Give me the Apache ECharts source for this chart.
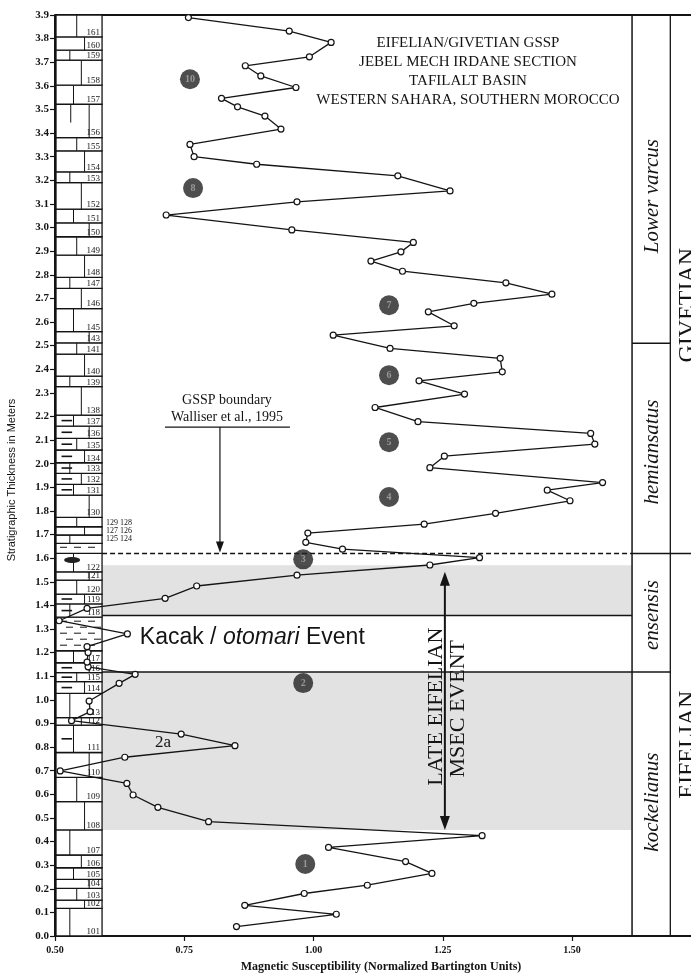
<!DOCTYPE html>
<html><head><meta charset="utf-8">
<script src="https://cdn.jsdelivr.net/npm/echarts@6.0.0/dist/echarts.min.js"></script>
<style>html,body{margin:0;padding:0;background:#fff}#c{width:691px;height:974px}</style>
</head><body><div id="c"></div>
<script>
// ---------- DATA ----------
const depthM = [0.040,0.092,0.130,0.180,0.215,0.265,0.315,0.375,0.425,0.484,0.545,0.597,0.646,0.699,0.757,0.806,0.855,0.912,0.950,0.995,1.070,1.108,1.140,1.160,1.200,1.225,1.279,1.335,1.387,1.430,1.482,1.528,1.571,1.602,1.638,1.667,1.706,1.744,1.790,1.843,1.888,1.920,1.983,2.032,2.083,2.128,2.178,2.238,2.295,2.351,2.389,2.446,2.488,2.544,2.584,2.643,2.679,2.718,2.766,2.815,2.858,2.897,2.937,2.990,3.053,3.109,3.155,3.219,3.268,3.300,3.352,3.417,3.472,3.511,3.547,3.593,3.642,3.685,3.723,3.784,3.832,3.889];
const susceptibility = [0.851,1.044,0.867,0.982,1.104,1.229,1.178,1.029,1.326,0.797,0.699,0.651,0.639,0.510,0.635,0.848,0.744,0.532,0.568,0.566,0.624,0.655,0.564,0.562,0.564,0.562,0.640,0.508,0.562,0.713,0.774,0.968,1.225,1.321,1.056,0.985,0.989,1.214,1.352,1.496,1.452,1.559,1.225,1.253,1.544,1.536,1.202,1.119,1.292,1.204,1.365,1.361,1.148,1.038,1.272,1.222,1.310,1.461,1.372,1.172,1.111,1.169,1.193,0.958,0.715,0.968,1.264,1.163,0.890,0.769,0.761,0.937,0.906,0.853,0.822,0.966,0.898,0.868,0.992,1.034,0.953,0.758];
const xTickValues = [0.50,0.75,1.00,1.25,1.50];

const cycleLabels = ['1','2','3','4','5','6','7','8','10'];
const cycleX = [0.984,0.980,0.980,1.146,1.146,1.146,1.146,0.767,0.761];
const cycleY = [0.305,1.071,1.595,1.859,2.091,2.375,2.671,3.167,3.628];

const bedBase  = [0.000,0.117,0.152,0.202,0.240,0.289,0.343,0.449,0.569,0.672,0.777,0.893,0.925,1.027,1.077,1.115,1.157,1.208,1.350,1.406,1.448,1.507,1.542,1.620,1.663,1.698,1.733,1.773,1.867,1.912,1.959,2.004,2.058,2.107,2.159,2.206,2.326,2.371,2.464,2.512,2.559,2.657,2.742,2.789,2.883,2.961,3.020,3.078,3.190,3.236,3.325,3.381,3.522,3.603,3.709,3.751,3.807];
const bedTop   = [0.117,0.152,0.202,0.240,0.289,0.343,0.449,0.569,0.672,0.777,0.893,0.925,1.027,1.077,1.115,1.157,1.208,1.350,1.406,1.448,1.507,1.542,1.620,1.663,1.698,1.733,1.773,1.867,1.912,1.959,2.004,2.058,2.107,2.159,2.206,2.326,2.371,2.464,2.512,2.559,2.657,2.742,2.789,2.883,2.961,3.020,3.078,3.190,3.236,3.325,3.381,3.522,3.603,3.709,3.751,3.807,3.900];
const bedLabels = ['101','102','103','104','105','106','107','108','109','110','111','112','113','114','115','116','117','','118','119','120','121','122','','','','','130','131','132','133','134','135','136','137','138','139','140','141','143','145','146','147','148','149','150','151','152','153','154','155','156','157','158','159','160','161'];
const bedType = ['L','L','L','L','L','L','L','L','L','L','M','L','L','M','M','M','L','S','M','M','L','L','N','S','L','L','L','L','M','M','M','M','M','M','M','L','L','L','L','L','L','L','L','L','L','L','L','L','L','L','L','L','L','L','L','L','L'];
const thinBedLabels = ['125 124','127 126','129 128'];
const thinBedDepth = [1.663,1.698,1.733];

const zoneNames = ['kockelianus','ensensis','hemiansatus','Lower varcus'];
const zoneBase = [0.000,1.118,1.620,2.510];
const zoneTop  = [1.118,1.620,2.510,3.900];
const stageNames = ['EIFELIAN','GIVETIAN'];
const stageBase = [0.000,1.620];
const stageTop  = [1.620,3.900];
const msecBandBase = [0.449,1.357];
const msecBandTop  = [1.118,1.570];
const kacakBase = 1.118, kacakTop = 1.357;
const gsspDepth = 1.620;

const titleLines = ['EIFELIAN/GIVETIAN GSSP','JEBEL MECH IRDANE SECTION','TAFILALT BASIN','WESTERN SAHARA, SOUTHERN MOROCCO'];

// ---------- LAYOUT ----------
const X_MIN = 0.5, X_MAX = 1.730, Y_MAX = 3.9;
const COL_RIGHT = 0.591, PLOT_RIGHT = 1.616, STAGE_LEFT = 1.690;
const zoneLabelDepth = [0.567,1.359,2.049,3.133];
const stageLabelDepth = [0.81,2.671];
const SERIF = '"Liberation Serif","Times New Roman",serif';
const SANS = '"Liberation Sans",Arial,sans-serif';
const INK = '#141414';

const chart = echarts.init(document.getElementById('c'), null, {renderer:'canvas'});

function seg(api, x1, y1, x2, y2, style){
  const a = api.coord([x1,y1]), b = api.coord([x2,y2]);
  return {type:'line', shape:{x1:a[0],y1:a[1],x2:b[0],y2:b[1]}, style:Object.assign({stroke:INK,lineWidth:1.4},style||{})};
}
function vtext(p, text, font, rot){
  return {type:'text', x:p[0], y:p[1], rotation:rot===undefined?Math.PI/2:rot,
    style:{text:text, font:font, fill:INK, align:'center', verticalAlign:'middle'}};
}

function shadeItem(params, api){
  const els = [];
  for (let i=0;i<msecBandBase.length;i++){
    const a = api.coord([COL_RIGHT, msecBandTop[i]]), b = api.coord([PLOT_RIGHT, msecBandBase[i]]);
    els.push({type:'rect', shape:{x:a[0],y:a[1],width:b[0]-a[0],height:b[1]-a[1]}, style:{fill:'#e2e2e2'}});
  }
  return {type:'group', children:els};
}

function frameItem(params, api){
  const els = [];
  els.push(seg(api, COL_RIGHT, kacakTop, PLOT_RIGHT, kacakTop, {lineWidth:1.6}));
  els.push(seg(api, COL_RIGHT, kacakBase, STAGE_LEFT, kacakBase, {lineWidth:1.6}));
  els.push(seg(api, COL_RIGHT, gsspDepth, PLOT_RIGHT, gsspDepth, {lineWidth:1.5, lineDash:[5,3]}));
  els.push(seg(api, PLOT_RIGHT, gsspDepth, X_MAX, gsspDepth, {lineWidth:1.5}));
  els.push(seg(api, PLOT_RIGHT, 0, PLOT_RIGHT, Y_MAX, {lineWidth:1.5}));
  els.push(seg(api, STAGE_LEFT, 0, STAGE_LEFT, Y_MAX, {lineWidth:1.3}));
  for (let i=1;i<zoneBase.length;i++){
    if (Math.abs(zoneBase[i]-gsspDepth)<1e-6 || Math.abs(zoneBase[i]-kacakBase)<1e-6) continue;
    els.push(seg(api, PLOT_RIGHT, zoneBase[i], STAGE_LEFT, zoneBase[i], {lineWidth:1.3}));
  }
  els.push(seg(api, X_MIN, Y_MAX, X_MAX, Y_MAX, {lineWidth:2}));
  for (let i=0;i<zoneNames.length;i++){
    const p = api.coord([(PLOT_RIGHT+STAGE_LEFT)/2, zoneLabelDepth[i]]);
    els.push(vtext([p[0]+1,p[1]], zoneNames[i], 'italic 21px '+SERIF));
  }
  for (let i=0;i<stageNames.length;i++){
    const p = api.coord([STAGE_LEFT, stageLabelDepth[i]]);
    els.push(vtext([p[0]+17,p[1]], stageNames[i], '24px '+SERIF));
  }
  const kp = api.coord([0.664, (kacakBase+kacakTop)/2]);
  els.push({type:'text', x:kp[0], y:kp[1]-6, style:{text:'{a|Kacak / }{b|otomari}{a| Event}', align:'left', verticalAlign:'middle',
     rich:{a:{font:'23px '+SANS, fill:INK}, b:{font:'italic 23px '+SANS, fill:INK}}}});
  const p2a = api.coord([0.709, 0.821]);
  els.push({type:'text', x:p2a[0], y:p2a[1], style:{text:'2a', font:'17px '+SERIF, fill:INK, align:'center', verticalAlign:'middle'}});
  const gx = 0.819;
  const gTop = api.coord([gx, 2.155]);
  els.push({type:'text', x:gTop[0]+7, y:gTop[1]-27, style:{text:'GSSP boundary', font:'14px '+SERIF, fill:INK, align:'center', verticalAlign:'middle'}});
  els.push({type:'text', x:gTop[0]+7, y:gTop[1]-10, style:{text:'Walliser et al., 1995', font:'14px '+SERIF, fill:INK, align:'center', verticalAlign:'middle'}});
  els.push({type:'line', shape:{x1:gTop[0]-55,y1:gTop[1],x2:gTop[0]+70,y2:gTop[1]}, style:{stroke:INK,lineWidth:1.3}});
  const gBot = api.coord([gx, gsspDepth]);
  els.push({type:'line', shape:{x1:gTop[0],y1:gTop[1],x2:gBot[0],y2:gBot[1]-8}, style:{stroke:INK,lineWidth:1.2}});
  els.push({type:'polygon', shape:{points:[[gBot[0],gBot[1]-1],[gBot[0]-4,gBot[1]-12],[gBot[0]+4,gBot[1]-12]]}, style:{fill:INK}});
  const mx = 1.254;
  const mT = api.coord([mx, 1.542]), mB = api.coord([mx, 0.449]);
  els.push({type:'line', shape:{x1:mT[0],y1:mT[1]+8,x2:mB[0],y2:mB[1]-8}, style:{stroke:INK,lineWidth:2}});
  els.push({type:'polygon', shape:{points:[[mT[0],mT[1]],[mT[0]-5,mT[1]+14],[mT[0]+5,mT[1]+14]]}, style:{fill:INK}});
  els.push({type:'polygon', shape:{points:[[mB[0],mB[1]],[mB[0]-5,mB[1]-14],[mB[0]+5,mB[1]-14]]}, style:{fill:INK}});
  const mc = api.coord([mx, 0.975]);
  els.push(vtext([mc[0]-9, mc[1]+1], 'LATE EIFELIAN', '22px '+SERIF));
  els.push(vtext([mc[0]+13, mc[1]+3], 'MSEC EVENT', '22px '+SERIF));
  return {type:'group', children:els};
}

const jointFrac = [0.3,0.62,0.45,0.72,0.38,0.55];
function bedItem(params, api){
  const i = params.dataIndex;
  const b = api.value(0), t = api.value(1);
  const tl = api.coord([X_MIN, t]), br = api.coord([COL_RIGHT, b]);
  const x0 = tl[0]+1, y0 = tl[1], x1 = br[0], y1 = br[1], w = x1-x0, h = y1-y0;
  const els = [];
  els.push({type:'rect', shape:{x:x0,y:y0,width:w,height:h}, style:{fill:'#fff', stroke:INK, lineWidth:1.3}});
  const ty = bedType[i];
  const jf = jointFrac[i % jointFrac.length];
  if (ty === 'L' || ty === 'M' || ty === 'N'){
    els.push({type:'line', shape:{x1:x0+w*jf,y1:y0,x2:x0+w*jf,y2:y1}, style:{stroke:INK,lineWidth:1}});
    if (h > 30){
      const jf2 = jf < 0.5 ? jf+0.3 : jf-0.4;
      els.push({type:'line', shape:{x1:x0+w*jf2,y1:y0,x2:x0+w*jf2,y2:y0+h*0.55}, style:{stroke:INK,lineWidth:1}});
    }
  }
  if (ty === 'M'){
    const ym = y0 + h*0.5;
    els.push({type:'line', shape:{x1:x0+w*0.12,y1:ym,x2:x0+w*0.35,y2:ym}, style:{stroke:INK,lineWidth:1.6}});
  }
  if (ty === 'N'){
    const ym = y0 + h*0.35;
    els.push({type:'ellipse', shape:{cx:x0+w*0.35, cy:ym, rx:8, ry:3}, style:{fill:'#222'}});
  }
  if (ty === 'S'){
    for (let yy = y0+4; yy < y1-2; yy += 6){
      const off = (Math.round((yy-y0)/6) % 2) ? 4 : 10;
      for (let xx = x0+off; xx < x1-6; xx += 14){
        els.push({type:'line', shape:{x1:xx,y1:yy,x2:xx+7,y2:yy}, style:{stroke:INK,lineWidth:1}});
      }
    }
  }
  if (bedLabels[i]){
    els.push({type:'text', x:x1-2, y:y1, style:{text:bedLabels[i], font:'9px '+SERIF, fill:INK, align:'right', verticalAlign:'bottom'}});
  }
  return {type:'group', children:els};
}

function thinLabelItem(params, api){
  const els = [];
  for (let i=0;i<thinBedLabels.length;i++){
    const p = api.coord([COL_RIGHT, thinBedDepth[i]]);
    els.push({type:'text', x:p[0]+4, y:p[1], style:{text:thinBedLabels[i], font:'8px '+SERIF, fill:INK, align:'left', verticalAlign:'bottom'}});
  }
  return {type:'group', children:els};
}

const option = {
  animation:false,
  backgroundColor:'#fff',
  grid:{left:55, right:0, top:15, bottom:38, containLabel:false},
  xAxis:{type:'value', min:X_MIN, max:X_MAX,
    axisLine:{lineStyle:{color:INK,width:2}},
    axisTick:{show:true, length:5, inside:false, customValues:xTickValues, lineStyle:{color:INK,width:1.2}},
    axisLabel:{customValues:xTickValues, formatter:v=>v.toFixed(2), color:INK, fontFamily:SERIF, fontWeight:'bold', fontSize:10, margin:9},
    splitLine:{show:false}},
  yAxis:{type:'value', min:0, max:Y_MAX, interval:0.1,
    axisLine:{lineStyle:{color:INK,width:2}},
    axisTick:{show:true, length:5, lineStyle:{color:INK,width:1.2}},
    axisLabel:{formatter:v=>v.toFixed(1), color:INK, fontFamily:SERIF, fontWeight:'bold', fontSize:11, margin:6},
    splitLine:{show:false}},
  graphic:[
    ...titleLines.map((t,i)=>({type:'text', x:468, y:43+i*19, style:{text:t, font:'15px '+SERIF, fill:INK, align:'center', verticalAlign:'middle'}})),
    {type:'text', x:12, y:480, rotation:Math.PI/2, style:{text:'Stratigraphic Thickness in Meters', font:'11px '+SANS, fill:INK, align:'center', verticalAlign:'middle'}},
    {type:'text', x:381, y:967, style:{text:'Magnetic Susceptibility (Normalized Bartington Units)', font:'bold 12px '+SERIF, fill:INK, align:'center', verticalAlign:'middle'}}
  ],
  series:[
    {type:'custom', z:0, clip:false, silent:true, renderItem:shadeItem, data:[[X_MIN,0]]},
    {type:'custom', z:1, clip:false, silent:true, renderItem:frameItem, data:[[X_MIN,0]]},
    {type:'custom', z:2, clip:false, silent:true, renderItem:bedItem, encode:{x:-1,y:[0,1]}, data:bedBase.map((b,i)=>[b,bedTop[i]])},
    {type:'custom', z:2, clip:false, silent:true, renderItem:thinLabelItem, data:[[X_MIN,0]]},
    {type:'line', z:5, data:depthM.map((d,i)=>[susceptibility[i], d]), showSymbol:true, symbol:'circle', symbolSize:6,
      lineStyle:{color:INK,width:1.3}, itemStyle:{color:'#fff', borderColor:INK, borderWidth:1.2}, clip:false},
    {type:'scatter', z:6, data:cycleY.map((y,i)=>[cycleX[i], y]), symbolSize:20, itemStyle:{color:'#222'},
      label:{show:true, position:'inside', formatter:p=>cycleLabels[p.dataIndex], color:'#aaa', fontSize:10, fontFamily:SERIF, fontWeight:'bold'}}
  ]
};
chart.setOption(option);
</script>
</body></html>
